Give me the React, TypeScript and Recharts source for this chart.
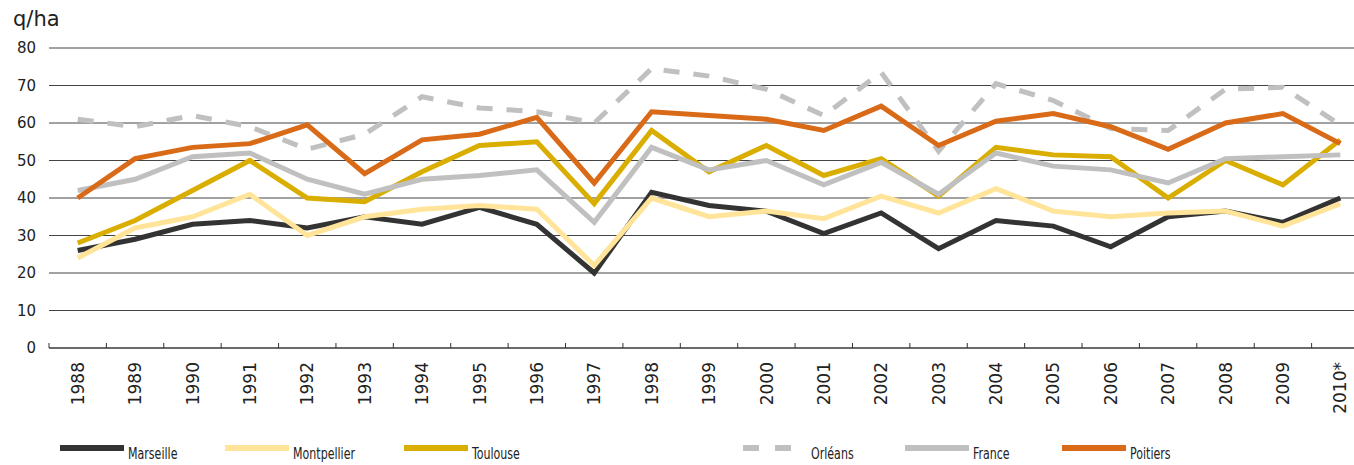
import React from "react";
import {
  LineChart,
  Line,
  XAxis,
  YAxis,
  CartesianGrid,
  Legend,
} from "recharts";

const years = [
  "1988", "1989", "1990", "1991", "1992", "1993", "1994", "1995", "1996", "1997", "1998", "1999",
  "2000", "2001", "2002", "2003", "2004", "2005", "2006", "2007", "2008", "2009", "2010*",
];

const marseille = [26, 29, 33, 34, 32, 35, 33, 37.5, 33, 20, 41.5, 38, 36.5, 30.5, 36, 26.5, 34, 32.5, 27, 35, 36.5, 33.5, 40];
const montpellier = [24, 32, 35, 41, 30, 35, 37, 38, 37, 22, 40, 35, 36.5, 34.5, 40.5, 36, 42.5, 36.5, 35, 36, 36.5, 32.5, 38.5];
const toulouse = [28, 34, 42, 50, 40, 39, 47, 54, 55, 38.5, 58, 47, 54, 46, 50.5, 40.5, 53.5, 51.5, 51, 40, 50, 43.5, 55.5];
const orleans = [61, 59, 62, 59, 53, 57, 67, 64, 63, 60, 74.5, 72.5, 69, 62, 73.5, 52.5, 70.5, 66, 58.5, 58, 69, 69.5, 59.5];
const france = [42, 45, 51, 52, 45, 41, 45, 46, 47.5, 33.5, 53.5, 47.5, 50, 43.5, 49.5, 41, 52, 48.5, 47.5, 44, 50.5, 51, 51.5];
const poitiers = [40, 50.5, 53.5, 54.5, 59.5, 46.5, 55.5, 57, 61.5, 44, 63, 62, 61, 58, 64.5, 54, 60.5, 62.5, 59, 53, 60, 62.5, 54.5];

const yTicks = [0, 10, 20, 30, 40, 50, 60, 70, 80];

const series = [
  { key: "Marseille", color: "#333333", values: marseille },
  { key: "Montpellier", color: "#ffe499", values: montpellier },
  { key: "Toulouse", color: "#d9ae00", values: toulouse },
  { key: "Orléans", color: "#c0c0c0", values: orleans, dash: "16 14" },
  { key: "France", color: "#c0c0c0", values: france },
  { key: "Poitiers", color: "#d96a17", values: poitiers },
];

const data = years.map((year, i) => {
  const row: Record<string, string | number> = { year };
  series.forEach((s) => {
    row[s.key] = s.values[i];
  });
  return row;
});

const CHART_W = 1380;
const PLOT_LEFT = 49;
const PLOT_W = 1320;
const STEP = PLOT_W / years.length;
const LEGEND_X = [60, 225, 404, 743, 905, 1062];

const sans = "'DejaVu Sans', Verdana, sans-serif";
const narrow = "'DejaVu Sans Condensed', 'Liberation Sans Narrow', sans-serif";

function YearTick(props: any) {
  const { x, y, payload } = props;
  return (
    <g>
      <line x1={x - STEP / 2} x2={x - STEP / 2} y1={y - 5} y2={y} stroke="#333" strokeWidth={1} />
      <text
        x={0}
        y={0}
        transform={`translate(${x},${y + 14}) rotate(-90)`}
        textAnchor="end"
        dy="0.36em"
        fontSize={17}
        fontFamily={sans}
        fill="#222"
      >
        {payload.value}
      </text>
    </g>
  );
}

function LegendContent() {
  return (
    <svg width={1354} height={28} style={{ display: "block" }}>
      {series.map((s, i) => (
        <g key={s.key}>
          <line
            x1={LEGEND_X[i]}
            x2={LEGEND_X[i] + 64}
            y1={11}
            y2={11}
            stroke={s.color}
            strokeWidth={6}
            strokeDasharray={s.dash ? "16 16" : undefined}
          />
          <text
            x={0}
            y={0}
            transform={`translate(${LEGEND_X[i] + 68},22) scale(0.82,1)`}
            fontSize={15}
            fontFamily={narrow}
            fill="#222"
          >
            {s.key}
          </text>
        </g>
      ))}
    </svg>
  );
}

function UnitLabel(props: any) {
  const { viewBox } = props;
  return (
    <text x={viewBox.x + 13} y={viewBox.y - 22} fontSize={21} fontFamily={sans} fill="#222">
      q/ha
    </text>
  );
}

export default function App() {
  return (
    <div
      style={{
        position: "fixed",
        left: 0,
        top: 0,
        width: 1354,
        height: 465,
        overflow: "hidden",
        background: "#fff",
      }}
    >
      <LineChart
        width={CHART_W}
        height={465}
        data={data}
        margin={{ top: 48, right: CHART_W - PLOT_LEFT - PLOT_W, left: 0, bottom: 29 }}
      >
        <CartesianGrid vertical={false} stroke="#444" strokeWidth={1} />
        <XAxis
          dataKey="year"
          scale="band"
          interval={0}
          height={60}
          tickSize={0}
          tickMargin={0}
          tick={<YearTick />}
          axisLine={{ stroke: "#333", strokeWidth: 1 }}
          tickLine={false}
        />
        <YAxis
          width={PLOT_LEFT}
          domain={[0, 80]}
          ticks={yTicks}
          interval={0}
          axisLine={false}
          tickLine={false}
          tickSize={0}
          tickMargin={13}
          tick={{ fontSize: 15, fontFamily: sans, fill: "#222" }}
          label={<UnitLabel />}
        />
        <Legend
          verticalAlign="bottom"
          content={<LegendContent />}
          wrapperStyle={{ top: 437, bottom: "auto", left: 0, width: 1354, height: 28 }}
        />
        {series.map((s) => (
          <Line
            key={s.key}
            dataKey={s.key}
            stroke={s.color}
            strokeWidth={5}
            strokeDasharray={s.dash}
            dot={false}
            activeDot={false}
            isAnimationActive={false}
          />
        ))}
      </LineChart>
    </div>
  );
}
